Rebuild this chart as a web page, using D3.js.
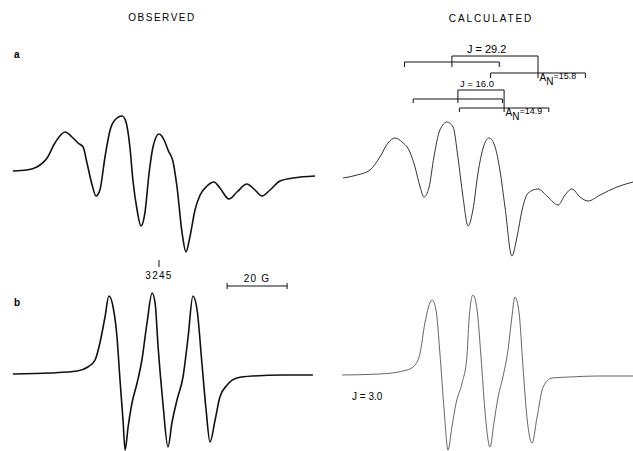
<!DOCTYPE html>
<html>
<head>
<meta charset="utf-8">
<script src="https://cdn.jsdelivr.net/npm/d3@7"></script>
<style>
  body { margin: 0; background: #fff; }
  svg text { font-family: "Liberation Sans", "DejaVu Sans", sans-serif; fill: #000; }
</style>
</head>
<body>
<div id="chart"></div>
<script>
// field offsets in gauss (relative to 3245 G) and derivative amplitudes (arb. units)
const obsAField = [-48.7, -44, -40.7, -37.3, -34.7, -31.3, -29, -27, -25.3, -24, -22.3, -21, -19.7, -18, -16.3, -14.7, -12.3, -11, -9.7, -8.7, -7.3, -6, -4.7, -3.3, -2, 0, 1.7, 3, 4.7, 6, 7.7, 9, 10.3, 12, 13.7, 16, 18.3, 20.3, 23.3, 26, 29.3, 32, 34.3, 37, 40.3, 44.7, 52];
const obsAAmp = [2, 3, 6, 15, 30, 41, 36, 30, 26, 10, -12, -23, -17, 16, 43, 53, 57, 51, 26, -7, -37, -53, -40, 0, 26, 39, 33, 23, 11, -14, -60, -79, -64, -37, -22, -13, -9, -15, -26, -19, -11, -17, -23, -17, -8, -5, -3];

const calcAField = [-47, -42.3, -38, -34.7, -32, -29.7, -27.3, -24.7, -23, -21.3, -20, -18.3, -16.7, -14.7, -12.3, -10.3, -8.7, -7, -5.3, -3.7, -2, -0.3, 1.7, 3.7, 5.3, 7, 9.3, 11, 12.7, 14.7, 18, 21.3, 24.7, 27, 29.3, 32, 34.7, 38.7, 44.3, 49.7];
const calcAAmp = [0, 3, 8, 21, 35, 40, 36, 26, 11, -9, -19, -9, 21, 48, 56, 51, 21, -19, -48, -32, 5, 30, 40, 31, 8, -29, -78, -59, -32, -15, -11, -19, -27, -17, -11, -19, -23, -17, -9, -4];

const obsBField = [-48.7, -36.3, -27.3, -23.7, -21.3, -19.7, -18, -16.7, -15.3, -14, -13, -12, -11.3, -10.3, -9, -7.3, -5.7, -4, -2.3, -1.3, -0.3, 1.3, 3, 4.3, 6, 8, 9.7, 11.3, 12.7, 14.3, 15.7, 17, 18.7, 20.3, 22.7, 26, 31.3, 41.3, 51.3];
const obsBAmp = [0, 1, 3, 7, 14, 31, 57, 78, 67, 37, -6, -46, -76, -53, -29, -9, 14, 51, 81, 71, 27, -29, -73, -49, -26, -3, 37, 78, 64, 11, -36, -68, -46, -23, -11, -4, -2, -1, -1];

const calcBField = [-47.3, -34.7, -25.7, -23, -21.3, -19.7, -17.3, -16, -14.7, -13.3, -12, -10.7, -9.3, -7.3, -5.7, -5, -3.7, -2.3, -1, 0.3, 2, 3.3, 4.7, 6.3, 8, 9.3, 10.3, 11.7, 13, 14.3, 16, 17.7, 19.7, 22.7, 28.7, 37.7, 49.7];
const calcBAmp = [0, 1, 5, 10, 22, 52, 75, 65, 22, -35, -75, -52, -28, -8, 18, 55, 80, 65, 18, -35, -72, -48, -22, -2, 25, 58, 78, 62, 8, -42, -68, -42, -12, -3, -2, -1, -1];

// splitting diagrams: triplet centres (G), coupling constants
const splitCentres = [[-10.7, 18.0], [-8.7, 6.7]];
const splitJ = ["29.2", "16.0"];
const splitAN = [15.8, 14.9];

const centreField = 3245;
const scaleBarG = [22.7, 42.7];

const width = 633, height = 451;
const svg = d3.select("#chart").append("svg")
  .attr("width", width)
  .attr("height", height);

const xObs = d3.scaleLinear().domain([0, 10]).range([159, 189]);
const xCalc = d3.scaleLinear().domain([0, 10]).range([484, 514]);
const yFor = base => d3.scaleLinear().domain([-100, 100]).range([base + 100, base - 100]);

const panels = [
  { f: obsAField, a: obsAAmp, x: xObs, y: yFor(173), w: 1.6, c: "#111" },
  { f: calcAField, a: calcAAmp, x: xCalc, y: yFor(178), w: 1.0, c: "#333" },
  { f: obsBField, a: obsBAmp, x: xObs, y: yFor(374), w: 1.6, c: "#111" },
  { f: calcBField, a: calcBAmp, x: xCalc, y: yFor(375), w: 0.9, c: "#555" }
];

panels.forEach(p => {
  const line = d3.line()
    .x(d => p.x(d[0]))
    .y(d => p.y(d[1]))
    .curve(d3.curveMonotoneX);
  svg.append("path")
    .datum(d3.zip(p.f, p.a))
    .attr("d", line)
    .attr("fill", "none")
    .attr("stroke", p.c)
    .attr("stroke-width", p.w)
    .attr("stroke-linejoin", "round");
});

// headers and panel letters
svg.append("text").attr("x", 162).attr("y", 21).attr("text-anchor", "middle")
  .attr("font-size", 10).attr("letter-spacing", 1.5).text("OBSERVED");
svg.append("text").attr("x", 491).attr("y", 22).attr("text-anchor", "middle")
  .attr("font-size", 10).attr("letter-spacing", 1.9).text("CALCULATED");
svg.append("text").attr("x", 14).attr("y", 58).attr("font-size", 10).attr("font-weight", "bold").text("a");
svg.append("text").attr("x", 14).attr("y", 306).attr("font-size", 10).attr("font-weight", "bold").text("b");

// field marker 3245
svg.append("line")
  .attr("x1", xObs(0)).attr("x2", xObs(0)).attr("y1", 260).attr("y2", 267)
  .attr("stroke", "#111").attr("stroke-width", 1);
svg.append("text").attr("x", xObs(0)).attr("y", 279).attr("text-anchor", "middle")
  .attr("font-size", 10).attr("letter-spacing", 1.3).text(centreField);

// 20 G scale bar
const bar = svg.append("g").attr("stroke", "#111").attr("stroke-width", 1);
bar.append("line").attr("x1", xObs(scaleBarG[0])).attr("x2", xObs(scaleBarG[1])).attr("y1", 286).attr("y2", 286);
scaleBarG.forEach(g => bar.append("line").attr("x1", xObs(g)).attr("x2", xObs(g)).attr("y1", 283).attr("y2", 289));
svg.append("text").attr("x", xObs(d3.mean(scaleBarG))).attr("y", 282).attr("text-anchor", "middle")
  .attr("font-size", 10).attr("letter-spacing", 1.2).text((scaleBarG[1] - scaleBarG[0]).toFixed(0) + " G");

svg.append("text").attr("x", 352).attr("y", 400).attr("font-size", 10).text("J = 3.0");

// splitting diagrams
const levels = [
  { top: 56, t1: 62, t2: 73, tick: 5, jSize: 11, jDx: 15 },
  { top: 90, t1: 99, t2: 108, tick: 4, jSize: 9.5, jDx: 2 }
];
const diag = svg.append("g").attr("stroke", "#111").attr("stroke-width", 1).attr("fill", "none");

splitCentres.forEach((cs, i) => {
  const L = levels[i], a = splitAN[i];
  const [c1, c2] = cs;
  // J bracket
  diag.append("path").attr("d",
    `M${xCalc(c1)},${L.t1 + L.tick}V${L.top}H${xCalc(c2)}V${L.t2 + L.tick}`);
  // two nitrogen triplets
  [[c1, L.t1], [c2, L.t2]].forEach(([c, yl]) => {
    diag.append("line").attr("x1", xCalc(c - a)).attr("x2", xCalc(c + a)).attr("y1", yl).attr("y2", yl);
    [c - a, c + a].forEach(g => diag.append("line")
      .attr("x1", xCalc(g)).attr("x2", xCalc(g)).attr("y1", yl).attr("y2", yl + L.tick));
  });
  svg.append("text").attr("x", xCalc(c1) + L.jDx).attr("y", L.top - 3)
    .attr("font-size", L.jSize).text("J = " + splitJ[i]);
  const t = svg.append("text").attr("x", xCalc(c2) + 1.5).attr("y", L.t2 + 8).attr("font-size", 10);
  t.append("tspan").text("A");
  t.append("tspan").attr("dy", 4).text("N");
  t.append("tspan").attr("dy", -6).attr("font-size", 9).text("=" + a.toFixed(1));
});
</script>
</body>
</html>
